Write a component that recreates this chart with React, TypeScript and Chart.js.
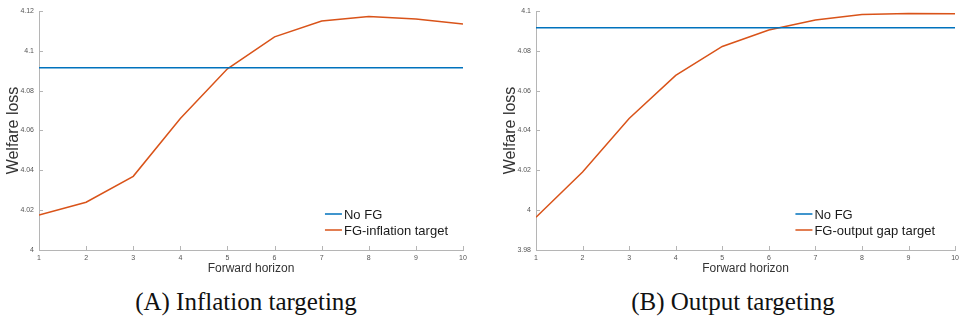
import React, { useEffect, useRef } from "react";
import { Chart, registerables } from "chart.js";

Chart.register(...registerables);

const horizons = [1, 2, 3, 4, 5, 6, 7, 8, 9, 10];
const leftNoFG = [4.0915, 4.0915, 4.0915, 4.0915, 4.0915, 4.0915, 4.0915, 4.0915, 4.0915, 4.0915];
const leftFGInflation = [4.0175, 4.024, 4.037, 4.066, 4.091, 4.107, 4.115, 4.1172, 4.116, 4.1135];
const rightNoFG = [4.0916, 4.0916, 4.0916, 4.0916, 4.0916, 4.0916, 4.0916, 4.0916, 4.0916, 4.0916];
const rightFGOutput = [3.9964, 4.0192, 4.046, 4.0677, 4.0822, 4.0905, 4.0955, 4.0982, 4.0988, 4.0986];
const leftYTicks = { min: 4, max: 4.12, step: 0.02 };
const rightYTicks = { min: 3.98, max: 4.1, step: 0.02 };
const legendNames = { noFG: "No FG", fgInflation: "FG-inflation target", fgOutput: "FG-output gap target" };
const panelTitles = ["(A) Inflation targeting", "(B) Output targeting"];
const xTitle = "Forward horizon";
const yTitle = "Welfare loss";

const BLUE = "#0072BD";
const ORANGE = "#D95319";
const AXIS = "#b5b5b5";
const SANS = "'Liberation Sans', Arial, sans-serif";

const innerTicks = {
  id: "innerTicks",
  afterDraw(chart: any) {
    const ctx = chart.ctx;
    const { left, bottom } = chart.chartArea;
    ctx.save();
    ctx.strokeStyle = AXIS;
    ctx.lineWidth = 1;
    chart.scales.x.ticks.forEach((t: any) => {
      const px = Math.round(chart.scales.x.getPixelForValue(t.value)) + 0.5;
      ctx.beginPath();
      ctx.moveTo(px, bottom);
      ctx.lineTo(px, bottom - 4);
      ctx.stroke();
    });
    chart.scales.y.ticks.forEach((t: any) => {
      const py = Math.round(chart.scales.y.getPixelForValue(t.value)) + 0.5;
      ctx.beginPath();
      ctx.moveTo(left, py);
      ctx.lineTo(left + 4, py);
      ctx.stroke();
    });
    ctx.restore();
  },
};

const insideLegend = {
  id: "insideLegend",
  afterDatasetsDraw(chart: any, _args: any, opts: any) {
    const ctx = chart.ctx;
    const { right, bottom } = chart.chartArea;
    ctx.save();
    ctx.font = `13px ${SANS}`;
    const ds = chart.data.datasets;
    const maxW = Math.max(...ds.map((d: any) => ctx.measureText(d.label).width));
    const textX = right - (opts.margin || 16) - maxW;
    const lineX1 = textX - 19;
    const lineX2 = textX - 2;
    ds.forEach((d: any, i: number) => {
      const y = bottom - 36 + i * 16;
      ctx.strokeStyle = d.borderColor;
      ctx.lineWidth = 1.5;
      ctx.beginPath();
      ctx.moveTo(lineX1, y);
      ctx.lineTo(lineX2, y);
      ctx.stroke();
      ctx.fillStyle = "#1a1a1a";
      ctx.textBaseline = "middle";
      ctx.textAlign = "left";
      ctx.fillText(d.label, textX, y + 1);
    });
    ctx.restore();
  },
};

function fmt(v: number) {
  return String(Number(Number(v).toFixed(4)));
}

type PanelProps = {
  left: number;
  width: number;
  rightPad: number;
  legendMargin: number;
  noFG: number[];
  fg: number[];
  fgLabel: string;
  yRange: { min: number; max: number; step: number };
};

function Panel(p: PanelProps) {
  const ref = useRef<HTMLCanvasElement | null>(null);
  useEffect(() => {
    if (!ref.current) return;
    const chart = new Chart(ref.current, {
      type: "line",
      data: {
        labels: horizons,
        datasets: [
          {
            label: legendNames.noFG,
            data: horizons.map((x, i) => ({ x, y: p.noFG[i] })),
            borderColor: BLUE,
            borderWidth: 1.5,
            pointRadius: 0,
            tension: 0,
          },
          {
            label: p.fgLabel,
            data: horizons.map((x, i) => ({ x, y: p.fg[i] })),
            borderColor: ORANGE,
            borderWidth: 1.5,
            pointRadius: 0,
            tension: 0,
          },
        ],
      },
      options: {
        animation: false,
        responsive: false,
        devicePixelRatio: 1,
        layout: { padding: { left: 0, right: p.rightPad, top: 11, bottom: 0 } },
        plugins: {
          legend: { display: false },
          tooltip: { enabled: false },
          insideLegend: { margin: p.legendMargin },
        } as any,
        scales: {
          x: {
            type: "linear",
            min: 1,
            max: 10,
            afterFit: (s: any) => {
              s.height = 30;
            },
            ticks: {
              stepSize: 1,
              font: { size: 7, family: SANS },
              color: "#555",
              padding: 4,
              maxRotation: 0,
              callback: (v: any) => fmt(v),
            },
            grid: { display: true, drawOnChartArea: false, drawTicks: false, color: AXIS },
            border: { display: true, color: AXIS, width: 1 },
            title: {
              display: true,
              text: xTitle,
              font: { size: 12, family: SANS },
              color: "#333",
              padding: { top: 0, bottom: 4 },
            },
          },
          y: {
            type: "linear",
            min: p.yRange.min,
            max: p.yRange.max,
            afterFit: (s: any) => {
              s.width = 39;
            },
            ticks: {
              stepSize: p.yRange.step,
              font: { size: 7, family: SANS },
              color: "#555",
              padding: 5,
              callback: (v: any) => fmt(v),
            },
            grid: { display: true, drawOnChartArea: false, drawTicks: false, color: AXIS },
            border: { display: true, color: AXIS, width: 1 },
            title: {
              display: true,
              text: yTitle,
              font: { size: 16, family: SANS },
              color: "#333",
              padding: { top: 4, bottom: 0 },
            },
          },
        },
      } as any,
      plugins: [innerTicks, insideLegend],
    });
    return () => chart.destroy();
  }, []);
  return (
    <canvas
      ref={ref}
      width={p.width}
      height={280}
      style={{ position: "absolute", left: p.left, top: 0, width: p.width, height: 280 }}
    />
  );
}

const titleStyle: React.CSSProperties = {
  position: "absolute",
  top: 287,
  width: 400,
  textAlign: "center",
  fontFamily: "'Liberation Serif', 'Times New Roman', serif",
  fontSize: 25,
  lineHeight: "30px",
  color: "#111",
  whiteSpace: "nowrap",
};

export default function App() {
  return (
    <div style={{ position: "absolute", left: 0, top: 0, width: 963, height: 329, background: "#fff", overflow: "hidden" }}>
      <Panel
        left={0}
        width={480}
        rightPad={17}
        legendMargin={15}
        noFG={leftNoFG}
        fg={leftFGInflation}
        fgLabel={legendNames.fgInflation}
        yRange={leftYTicks}
      />
      <Panel
        left={497}
        width={466}
        rightPad={3}
        legendMargin={20}
        noFG={rightNoFG}
        fg={rightFGOutput}
        fgLabel={legendNames.fgOutput}
        yRange={rightYTicks}
      />
      <div style={{ ...titleStyle, left: 246 - 200 }}>{panelTitles[0]}</div>
      <div style={{ ...titleStyle, left: 733 - 200 }}>{panelTitles[1]}</div>
    </div>
  );
}
